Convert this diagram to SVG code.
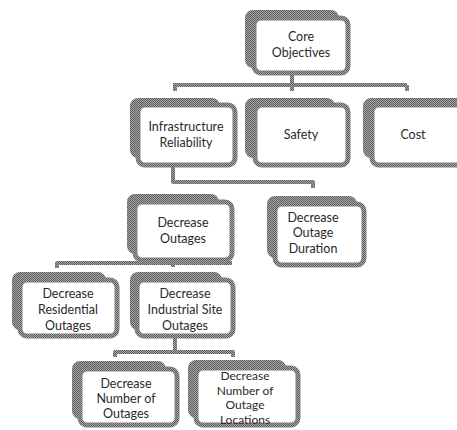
<svg xmlns="http://www.w3.org/2000/svg" width="457" height="430" viewBox="0 0 457 430">
<defs>
<pattern id="dither" width="2" height="2" patternUnits="userSpaceOnUse">
<rect width="2" height="2" fill="#a6a6a6"/>
<rect width="1" height="1" fill="#5e5e5e"/>
<rect x="1" y="1" width="1" height="1" fill="#5e5e5e"/>
</pattern>
<style>
.back{fill:url(#dither);stroke:url(#dither);stroke-width:2}
.front{fill:#fff;stroke:url(#dither);stroke-width:5}
.con{fill:none;stroke:url(#dither);stroke-width:4;stroke-linejoin:round}
text{font-family:Lato,"Open Sans","Liberation Sans",sans-serif;font-size:12.5px;fill:#2a2a2a;text-anchor:middle}
.small{font-size:12px}
</style>
</defs>
<rect width="457" height="430" fill="#fff"/>
<g id="connectors">
<path class="con" d="M292,73 V90 M173,85 H407 M175,85 V91 M292,85 V91 M407,85 V91"/>
<path class="con" d="M173,165 V182 H313 V188"/>
<path class="con" d="M57,268 V263 H232 M173,263 V267"/>
<path class="con" d="M175,336 V352 M115,357 V352 H233 V357"/>
</g>
<g id="core-objectives">
<rect class="back" x="246" y="11" width="92" height="56" rx="7"/>
<rect class="front" x="254" y="18" width="94" height="55" rx="7"/>
<text x="301" y="41">Core</text>
<text x="301" y="57">Objectives</text>
</g>
<g id="infrastructure-reliability">
<rect class="back" x="131" y="99" width="88" height="58" rx="7"/>
<rect class="front" x="138" y="105" width="97" height="60" rx="7"/>
<text x="186" y="131">Infrastructure</text>
<text x="186" y="147">Reliability</text>
</g>
<g id="safety">
<rect class="back" x="246" y="99" width="88" height="58" rx="7"/>
<rect class="front" x="255" y="105" width="93" height="60" rx="7"/>
<text x="301" y="139">Safety</text>
</g>
<g id="cost">
<rect class="back" x="364" y="99" width="100" height="58" rx="7"/>
<rect class="front" x="372" y="105" width="100" height="60" rx="7"/>
<text x="413" y="139">Cost</text>
</g>
<g id="decrease-outages">
<rect class="back" x="128" y="195" width="90" height="58" rx="7"/>
<rect class="front" x="135" y="202" width="97" height="58" rx="7"/>
<text x="183" y="227">Decrease</text>
<text x="183" y="243">Outages</text>
</g>
<g id="decrease-outage-duration">
<rect class="back" x="268" y="197" width="88" height="60" rx="7"/>
<rect class="front" x="275" y="204" width="89" height="61" rx="7"/>
<text x="313" y="222">Decrease</text>
<text x="313" y="237">Outage</text>
<text x="313" y="253">Duration</text>
</g>
<g id="decrease-residential-outages">
<rect class="back" x="13" y="273" width="92" height="56" rx="7"/>
<rect class="front" x="20" y="280" width="97" height="56" rx="7"/>
<text x="68" y="298">Decrease</text>
<text x="68" y="314">Residential</text>
<text x="68" y="330">Outages</text>
</g>
<g id="decrease-industrial-site-outages">
<rect class="back" x="131" y="273" width="90" height="56" rx="7"/>
<rect class="front" x="137" y="280" width="96" height="56" rx="7"/>
<text x="185" y="298">Decrease</text>
<text x="185" y="314">Industrial Site</text>
<text x="185" y="330">Outages</text>
</g>
<g id="decrease-number-of-outages">
<rect class="back" x="73" y="362" width="92" height="56" rx="7"/>
<rect class="front" x="80" y="369" width="97" height="56" rx="7"/>
<text x="126" y="388">Decrease</text>
<text x="126" y="403">Number of</text>
<text x="126" y="418">Outages</text>
</g>
<g id="decrease-number-of-outage-locations">
<rect class="back" x="189" y="361" width="96" height="56" rx="7"/>
<rect class="front" x="196" y="368" width="102" height="57" rx="7"/>
<text class="small" x="245" y="380">Decrease</text>
<text class="small" x="245" y="394.5">Number of</text>
<text class="small" x="245" y="409">Outage</text>
<text class="small" x="245" y="423.5">Locations</text>
</g>
</svg>
